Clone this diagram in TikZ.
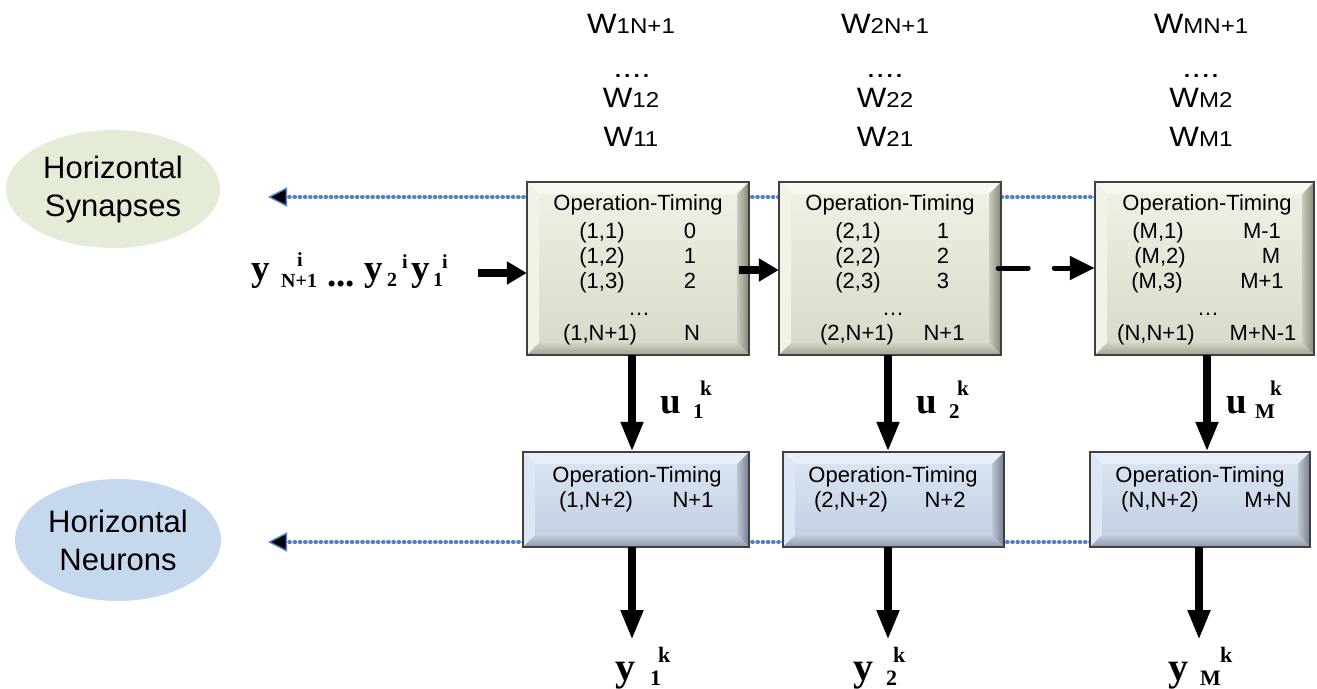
\documentclass[tikz,border=0pt]{standalone}
\usepackage{fontspec}
\setmainfont{Liberation Sans}
\newfontfamily\serifbf{Liberation Serif}
\usetikzlibrary{arrows.meta,calc,shapes.geometric}

\definecolor{gface}{RGB}{233,236,218}
\definecolor{gtop}{RGB}{247,249,240}
\definecolor{gleft}{RGB}{241,243,230}
\definecolor{gright}{RGB}{132,135,112}
\definecolor{gbot}{RGB}{160,163,140}
\definecolor{bface}{RGB}{205,219,239}
\definecolor{btop}{RGB}{230,238,249}
\definecolor{bleft}{RGB}{220,230,245}
\definecolor{bright}{RGB}{112,126,150}
\definecolor{bbot}{RGB}{138,152,176}
\definecolor{synfill}{RGB}{228,235,214}
\definecolor{neufill}{RGB}{198,216,238}
\definecolor{dotblue}{RGB}{79,129,200}
\definecolor{edgegray}{RGB}{64,64,64}

\newcommand\bevel[5]{%
  \fill[#2] (#1.north west) -- (#1.north east) -- ([xshift=-12pt,yshift=-12pt]#1.north east) -- ([xshift=12pt,yshift=-12pt]#1.north west) -- cycle;
  \fill[#3] (#1.north west) -- ([xshift=12pt,yshift=-12pt]#1.north west) -- ([xshift=12pt,yshift=12pt]#1.south west) -- (#1.south west) -- cycle;
  \shade[left color=#4!45!white, right color=#4] (#1.north east) -- (#1.south east) -- ([xshift=-12pt,yshift=12pt]#1.south east) -- ([xshift=-12pt,yshift=-12pt]#1.north east) -- cycle;
  \shade[top color=#5!50!white, bottom color=#5] (#1.south west) -- ([xshift=12pt,yshift=12pt]#1.south west) -- ([xshift=-12pt,yshift=12pt]#1.south east) -- (#1.south east) -- cycle;
  \draw[edgegray, line width=1.6pt] (#1.north west) rectangle (#1.south east);
}

\tikzset{
  greenbox/.style={rectangle, inner sep=0pt, top color=gface!70!white, bottom color=gface!92!black},
  bluebox/.style={rectangle, inner sep=0pt, top color=bface!70!white, bottom color=bface!94!black},
  txt/.style={inner sep=0pt, anchor=base, font=\fontsize{22}{22}\selectfont},
  wlab/.style={inner sep=0pt, anchor=base},
  ellipsetxt/.style={ellipse, inner sep=0pt, align=center, font=\fontsize{31}{38}\selectfont},
  mainl/.style={inner sep=0pt, anchor=base west, font=\serifbf\bfseries\fontsize{37}{37}\selectfont},
  bigl/.style={inner sep=0pt, anchor=base west, font=\serifbf\bfseries\fontsize{40}{40}\selectfont},
  subl/.style={inner sep=0pt, anchor=base west, font=\serifbf\bfseries\fontsize{21}{21}\selectfont},
  insub/.style={inner sep=0pt, anchor=base west, font=\serifbf\bfseries\fontsize{20}{20}\selectfont},
  outsub/.style={inner sep=0pt, anchor=base west, font=\serifbf\bfseries\fontsize{22}{22}\selectfont},
  dotline/.style={dotblue, line width=3.6pt, line cap=round, dash pattern=on 1pt off 4.2pt,
    -{Triangle[length=19pt,width=19pt,fill=black,line width=1.4pt]}},
  harrow/.style={line width=8.5pt, -{Triangle[length=20pt,width=22pt]}},
  varrow/.style={line width=8pt, -{Triangle[length=30pt,width=21pt]}},
  dasharrow/.style={line width=5pt, line cap=round, dash pattern=on 30pt off 26pt,
    -{Triangle[length=25pt,width=23pt]}}
}

\newcommand\wtxt[1]{\scalebox{1.12}[1]{{\fontsize{28}{28}\selectfont W}{\fontsize{21.5}{21.5}\selectfont #1}}}

\begin{document}
\begin{tikzpicture}[x=1pt,y=-1pt]
\useasboundingbox (0,0) rectangle (1317,688);

% ellipses
\node[ellipsetxt, fill=synfill, minimum width=214pt, minimum height=118pt] (syn) at (113,189) {Horizontal\\Synapses};
\node[ellipsetxt, fill=neufill, minimum width=206pt, minimum height=122pt] (neu) at (118,540) {Horizontal\\Neurons};

% dotted guide lines (behind boxes)
\coordinate (synR) at (1096,197);
\coordinate (synL) at (268,197);
\coordinate (neuR) at (1091,542);
\coordinate (neuL) at (268,542);
\draw[dotline] (synR) -- (synL);
\draw[dotline] (neuR) -- (neuL);

% top (synapse) boxes
\node[greenbox, minimum width=222pt, minimum height=173pt] (G1) at (638,268.5) {};
\bevel{G1}{gtop}{gleft}{gright}{gbot}
\node[greenbox, minimum width=222pt, minimum height=173pt] (G2) at (890,268.5) {};
\bevel{G2}{gtop}{gleft}{gright}{gbot}
\node[greenbox, minimum width=219pt, minimum height=173pt] (G3) at (1204.5,268.5) {};
\bevel{G3}{gtop}{gleft}{gright}{gbot}

% bottom (neuron) boxes
\node[bluebox, minimum width=226pt, minimum height=95pt] (B1) at (636,499.5) {};
\bevel{B1}{btop}{bleft}{bright}{bbot}
\node[bluebox, minimum width=221pt, minimum height=95pt] (B2) at (893.5,499.5) {};
\bevel{B2}{btop}{bleft}{bright}{bbot}
\node[bluebox, minimum width=220pt, minimum height=95pt] (B3) at (1200,499.5) {};
\bevel{B3}{btop}{bleft}{bright}{bbot}

% box texts G1
\node[txt] (g1t) at (638,210) {Operation-Timing};
\node[txt] (g1a) at (602,238) {(1,1)};   \node[txt] (g1av) at (690,238) {0};
\node[txt] (g1b) at (602,263) {(1,2)};   \node[txt] (g1bv) at (690,263) {1};
\node[txt] (g1c) at (602,288) {(1,3)};   \node[txt] (g1cv) at (690,288) {2};
\node[txt] (g1d) at (639,315) {…};
\node[txt] (g1e) at (600,340) {(1,N+1)}; \node[txt] (g1ev) at (692,340) {N};
% G2
\node[txt] (g2t) at (890,210) {Operation-Timing};
\node[txt] (g2a) at (858,238) {(2,1)};   \node[txt] (g2av) at (943,238) {1};
\node[txt] (g2b) at (858,263) {(2,2)};   \node[txt] (g2bv) at (943,263) {2};
\node[txt] (g2c) at (858,288) {(2,3)};   \node[txt] (g2cv) at (943,288) {3};
\node[txt] (g2d) at (893,315) {…};
\node[txt] (g2e) at (857,340) {(2,N+1)}; \node[txt] (g2ev) at (944,340) {N+1};
% G3
\node[txt] (g3t) at (1207,210) {Operation-Timing};
\node[txt] (g3a) at (1158,238) {(M,1)};   \node[txt] (g3av) at (1262,238) {M-1};
\node[txt] (g3b) at (1160,263) {(M,2)};   \node[txt] (g3bv) at (1271,263) {M};
\node[txt] (g3c) at (1157,288) {(M,3)};   \node[txt] (g3cv) at (1262,288) {M+1};
\node[txt] (g3d) at (1208,315) {…};
\node[txt] (g3e) at (1156,340) {(N,N+1)}; \node[txt] (g3ev) at (1263,340) {M+N-1};

% blue box texts
\node[txt] (b1t) at (637,482) {Operation-Timing};
\node[txt] (b1a) at (596,507) {(1,N+2)};  \node[txt] (b1av) at (693,507) {N+1};
\node[txt] (b2t) at (893,482) {Operation-Timing};
\node[txt] (b2a) at (851,507) {(2,N+2)};  \node[txt] (b2av) at (945,507) {N+2};
\node[txt] (b3t) at (1200,482) {Operation-Timing};
\node[txt] (b3a) at (1160,507) {(N,N+2)};  \node[txt] (b3av) at (1268,507) {M+N};

% weight labels
\node[wlab] (w1a) at (631,33) {\wtxt{1N+1}};
\node[wlab, font=\fontsize{28}{28}\selectfont] (w1b) at (632,77) {\scalebox{1.2}[1]{....}};
\node[wlab] (w1c) at (631,107) {\wtxt{12}};
\node[wlab] (w1d) at (631,146) {\wtxt{11}};
\node[wlab] (w2a) at (885,33) {\wtxt{2N+1}};
\node[wlab, font=\fontsize{28}{28}\selectfont] (w2b) at (885,77) {\scalebox{1.2}[1]{....}};
\node[wlab] (w2c) at (885,107) {\wtxt{22}};
\node[wlab] (w2d) at (885,146) {\wtxt{21}};
\node[wlab] (w3a) at (1201,33) {\wtxt{MN+1}};
\node[wlab, font=\fontsize{28}{28}\selectfont] (w3b) at (1201,77) {\scalebox{1.2}[1]{....}};
\node[wlab] (w3c) at (1201,107) {\wtxt{M2}};
\node[wlab] (w3d) at (1201,146) {\wtxt{M1}};

% input label
\node[mainl] (iy3) at (251,280) {y};
\node[insub] (iy3s) at (281,287) {N+1};
\node[insub] (iy3p) at (297,266) {i};
\node[mainl] (idots) at (327,286) {...};
\node[mainl] (iy2) at (364,280) {y};
\node[insub] (iy2s) at (387,286) {2};
\node[insub] (iy2p) at (402,268) {i};
\node[mainl] (iy1) at (411,280) {y};
\node[insub] (iy1s) at (433,286) {1};
\node[insub] (iy1p) at (442,268) {i};

% u labels
\node[mainl] (u1) at (660,413) {u};
\node[subl] (u1s) at (693,418) {1};
\node[subl] (u1p) at (700,395) {k};
\node[mainl] (u2) at (916,413) {u};
\node[subl] (u2s) at (949,418) {2};
\node[subl] (u2p) at (957,395) {k};
\node[mainl] (uM) at (1226,413) {u};
\node[subl] (uMs) at (1255,418) {M};
\node[subl] (uMp) at (1270,395) {k};

% output labels
\node[bigl] (y1) at (615,680) {y};
\node[outsub] (y1s) at (650,685) {1};
\node[outsub] (y1p) at (658,662) {k};
\node[bigl] (y2) at (853,680) {y};
\node[outsub] (y2s) at (886,685) {2};
\node[outsub] (y2p) at (893,662) {k};
\node[bigl] (yM) at (1168,680) {y};
\node[outsub] (yMs) at (1200,685) {M};
\node[outsub] (yMp) at (1220,662) {k};

% horizontal arrows
\coordinate (inS) at (478,273);
\coordinate (h12) at (0,270);
\coordinate (h23) at (0,268);
\draw[harrow] (inS) -- (G1.west |- inS);
\draw[harrow] ([xshift=-10pt]G1.east |- h12) -- (G2.west |- h12);
\draw[dasharrow] ([xshift=-3pt]G2.east |- h23) -- (G3.west |- h23);

% vertical arrows
\coordinate (c1) at (632,0);
\coordinate (c2) at (888,0);
\coordinate (c3) at (1207,0);
\coordinate (d1) at (632,640);
\coordinate (d2) at (888,640);
\coordinate (d3) at (1199,640);
\draw[varrow] (G1.south -| c1) -- (B1.north -| c1);
\draw[varrow] (G2.south -| c2) -- (B2.north -| c2);
\draw[varrow] (G3.south -| c3) -- (B3.north -| c3);
\draw[varrow] (B1.south -| d1) -- (d1);
\draw[varrow] (B2.south -| d2) -- (d2);
\draw[varrow] (B3.south -| d3) -- (d3);
\end{tikzpicture}
\end{document}
